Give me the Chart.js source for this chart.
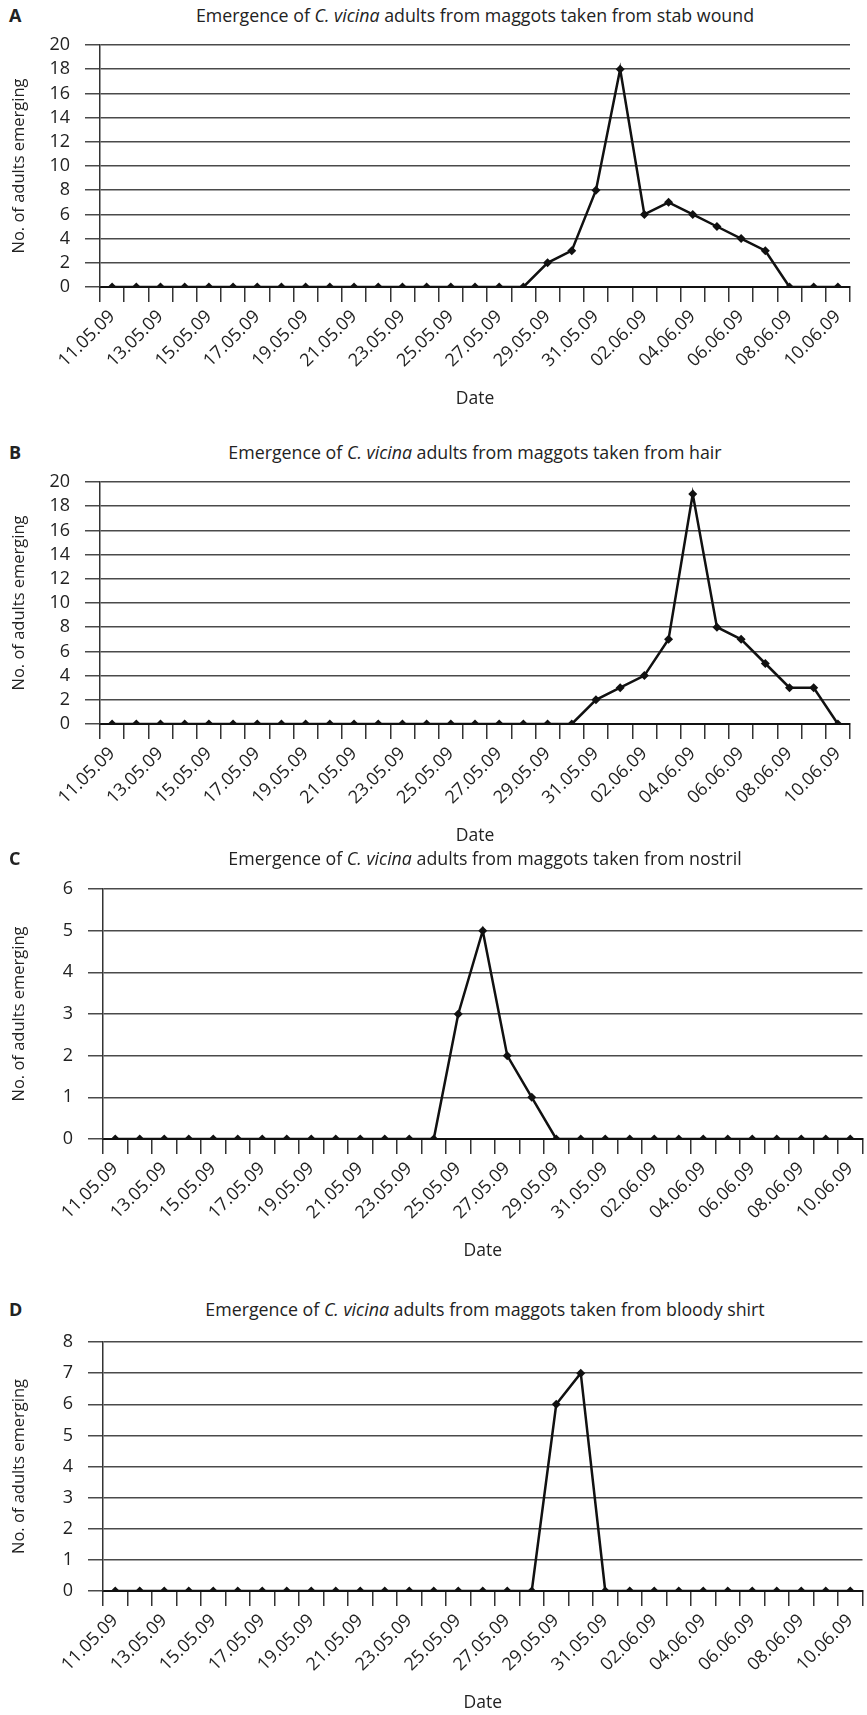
<!DOCTYPE html>
<html>
<head>
<meta charset="utf-8">
<script src="https://cdn.jsdelivr.net/npm/chart.js@4/dist/chart.umd.min.js"></script>
<style>
  html, body { margin: 0; padding: 0; background: #fff; overflow: hidden; }
  body { width: 867px; height: 1715px; position: relative; font-family: "Open Sans", sans-serif; color: #222; }
  .panel__letter { position: absolute; left: 9px; font-weight: bold; font-size: 18px; line-height: 24px; }
  .panel__title { position: absolute; font-size: 17.8px; line-height: 24px; text-align: center; white-space: nowrap; }
  canvas { position: absolute; left: 0; }
</style>
</head>
<body>
<script>
const dates = [
  "11.05.09", "12.05.09", "13.05.09", "14.05.09", "15.05.09", "16.05.09",
  "17.05.09", "18.05.09", "19.05.09", "20.05.09", "21.05.09", "22.05.09",
  "23.05.09", "24.05.09", "25.05.09", "26.05.09", "27.05.09", "28.05.09",
  "29.05.09", "30.05.09", "31.05.09", "01.06.09", "02.06.09", "03.06.09",
  "04.06.09", "05.06.09", "06.06.09", "07.06.09", "08.06.09", "09.06.09",
  "10.06.09",
];
const stabWound = [0, 0, 0, 0, 0, 0, 0, 0, 0, 0, 0, 0, 0, 0, 0, 0, 0, 0, 2, 3, 8, 18, 6, 7, 6, 5, 4, 3, 0, 0, 0];
const hair = [0, 0, 0, 0, 0, 0, 0, 0, 0, 0, 0, 0, 0, 0, 0, 0, 0, 0, 0, 0, 2, 3, 4, 7, 19, 8, 7, 5, 3, 3, 0];
const nostril = [0, 0, 0, 0, 0, 0, 0, 0, 0, 0, 0, 0, 0, 0, 3, 5, 2, 1, 0, 0, 0, 0, 0, 0, 0, 0, 0, 0, 0, 0, 0];
const bloodyShirt = [0, 0, 0, 0, 0, 0, 0, 0, 0, 0, 0, 0, 0, 0, 0, 0, 0, 0, 6, 7, 0, 0, 0, 0, 0, 0, 0, 0, 0, 0, 0];

const yMaxA = 20, yMaxB = 20, yMaxC = 6, yMaxD = 8;
const yStepA = 2, yStepB = 2, yStepC = 1, yStepD = 1;

const xTitle = "Date";
const yTitle = "No. of adults emerging";

// top = canvas top, axisY = pixel of the zero line, left/right = plot area
const panels = [
  { letter: "A", source: "stab wound", values: stabWound, yMax: yMaxA, step: yStepA, titleY: 15, top: 35, axisY: 287, left: 100, right: 850 },
  { letter: "B", source: "hair", values: hair, yMax: yMaxB, step: yStepB, titleY: 452, top: 472, axisY: 724, left: 100, right: 850 },
  { letter: "C", source: "nostril", values: nostril, yMax: yMaxC, step: yStepC, titleY: 858, top: 879, axisY: 1139, left: 103, right: 867 },
  { letter: "D", source: "bloody shirt", values: bloodyShirt, yMax: yMaxD, step: yStepD, titleY: 1309, top: 1332, axisY: 1591, left: 103, right: 867 },
];

const WIDTH = 867;
const PAD_TOP = 10;
const X_AXIS_H = 125;
const FONT = "'Open Sans', sans-serif";

function createPanel(p) {
  const letter = document.createElement("div");
  letter.className = "panel__letter";
  letter.style.top = p.titleY - 12 + "px";
  letter.textContent = p.letter;
  document.body.appendChild(letter);

  const title = document.createElement("div");
  title.className = "panel__title";
  title.style.top = p.titleY - 12 + "px";
  title.style.left = p.left + "px";
  title.style.width = p.right - p.left + "px";
  title.innerHTML = "Emergence of <i>C. vicina</i> adults from maggots taken from " + p.source;
  document.body.appendChild(title);

  const canvas = document.createElement("canvas");
  const height = p.axisY - p.top + X_AXIS_H;
  canvas.width = WIDTH;
  canvas.height = height;
  canvas.style.top = p.top + "px";
  canvas.style.width = WIDTH + "px";
  canvas.style.height = height + "px";
  document.body.appendChild(canvas);

  new Chart(canvas, {
    type: "line",
    data: {
      labels: dates,
      datasets: [
        {
          data: p.values,
          borderColor: "#111",
          backgroundColor: "#111",
          borderWidth: 2.5,
          pointStyle: "rectRot",
          pointRadius: 4.5,
          pointBorderWidth: 0,
          tension: 0,
        },
      ],
    },
    options: {
      responsive: false,
      animation: false,
      layout: {
        padding: { top: PAD_TOP, right: WIDTH - p.right, left: 0, bottom: 0 },
      },
      plugins: {
        legend: { display: false },
        tooltip: { enabled: false },
      },
      scales: {
        x: {
          offset: true,
          grid: {
            offset: true,
            drawOnChartArea: false,
            drawTicks: true,
            tickLength: 15,
            color: "#333",
            lineWidth: 1.5,
          },
          border: { color: "#111", width: 2 },
          ticks: {
            autoSkip: false,
            minRotation: 45,
            maxRotation: 45,
            padding: 4,
            color: "#222",
            font: { family: FONT, size: 18 },
            callback(value, index) {
              return index % 2 === 0 ? this.getLabelForValue(value) : "";
            },
          },
          title: {
            display: true,
            text: xTitle,
            color: "#222",
            font: { family: FONT, size: 17.5 },
            padding: { top: 4, bottom: 2 },
          },
          afterFit(scale) {
            scale.height = X_AXIS_H;
            scale.paddingLeft = 0;
            scale.paddingRight = 0;
          },
        },
        y: {
          min: 0,
          max: p.yMax,
          grid: {
            color: "#4a4a4a",
            lineWidth: 1.5,
            tickLength: 15,
          },
          border: { color: "#333", width: 1.5 },
          ticks: {
            stepSize: p.step,
            autoSkip: false,
            padding: 15,
            color: "#222",
            font: { family: FONT, size: 18 },
          },
          title: {
            display: true,
            text: yTitle,
            color: "#222",
            font: { family: FONT, size: 16.5 },
            padding: { top: 9, bottom: 0 },
          },
          afterFit(scale) {
            scale.width = p.left;
            scale.paddingTop = 0;
            scale.paddingBottom = 0;
          },
        },
      },
    },
  });
}

panels.forEach(createPanel);
</script>
</body>
</html>
